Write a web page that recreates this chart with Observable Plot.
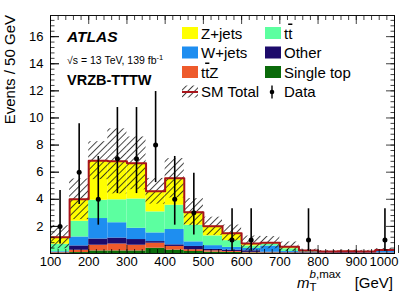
<!DOCTYPE html>
<html><head><meta charset="utf-8">
<script src="https://cdn.jsdelivr.net/npm/d3@7"></script>
<script src="https://cdn.jsdelivr.net/npm/@observablehq/plot@0.6"></script>
<style>html,body{margin:0;padding:0;background:#fff}</style>
</head><body><div id="chart"></div>
<script>
const FONT = "'Liberation Sans', Arial, Helvetica, sans-serif";

// ---- data ----
const binEdges = [100,150,200,250,300,350,400,450,500,550,600,650,700,750,800,850,900,950,1000];
const processNames  = ["Single top", "tt\u0304Z", "Other", "W+jets", "tt\u0304", "Z+jets"];
const processColors = ["#0a6b0a", "#ee5a2b", "#1d0b6b", "#1e8ef0", "#5cffa0", "#ffff00"];
const singleTop = [0.02,0.07,0.19,0.19,0.19,0.39,0.25,0.15,0.10,0.08,0.04,0.03,0.02,0.02,0.01,0.01,0.01,0.01];
const ttZ       = [0.04,0.17,0.42,0.51,0.42,0.37,0.27,0.13,0.10,0.07,0.04,0.03,0.03,0.02,0.02,0.02,0.02,0.02];
const other     = [0.02,0.32,0.46,0.44,0.42,0.12,0.12,0.24,0.10,0.10,0.12,0.04,0.03,0.03,0.03,0.05,0.02,0.02];
const wJets     = [0.05,0.66,1.51,1.13,0.83,0.64,1.13,0.34,0.28,0.20,0.17,0.45,0.07,0.03,0.02,0.02,0.03,0.12];
const ttbar     = [0.55,1.16,1.35,1.69,2.16,1.55,1.79,1.23,0.72,0.50,0.19,0.15,0.20,0.05,0.03,0.03,0.04,0.05];
const zJets     = [0.52,1.62,2.92,2.84,2.63,1.52,1.99,0.96,0.71,0.55,0.18,0.10,0.15,0.07,0.03,0.03,0.03,0.04];
const totalUnc  = [0.85,1.50,1.40,2.40,1.95,0.95,1.45,1.00,0.67,0.60,0.55,0.45,0.35,0.10,0.08,0.08,0.08,0.10];
const dataCounts  = [2,6,4,7,7,8,4,3,0,1,1,0,0,1,0,0,0,1];
const dataErrLow  = [0.71,3.62,2.09,4.42,4.42,5.23,2.09,1.37,null,0.17,0.17,null,null,0.17,null,null,null,0.17];
const dataErrHigh = [4.64,9.58,7.16,10.77,10.77,11.95,7.16,5.92,null,3.30,3.30,null,null,3.30,null,null,null,3.30];
const xTickLabels = [100,200,300,400,500,600,700,800,900];
const xLastTick = [1000];
const yTickLabels = [2,4,6,8,10,12,14,16];
const yMax = 17.56;

// ---- derived tables ----
const series = [singleTop, ttZ, other, wJets, ttbar, zJets];
const nBins = binEdges.length - 1;
const stackRows = [];
const totals = [];
for (let i = 0; i < nBins; i++) {
  let c = 0;
  series.forEach((s, k) => {
    stackRows.push({x1: binEdges[i], x2: binEdges[i+1], y1: c, y2: c + s[i], process: processNames[k]});
    c += s[i];
  });
  totals.push(c);
}
const bandRows = totals.map((t, i) => ({x1: binEdges[i], x2: binEdges[i+1], lo: Math.max(0, t - totalUnc[i]), hi: t + totalUnc[i]}));
const stepRows = binEdges.map((e, i) => ({x: e, y: totals[Math.min(i, nBins - 1)]}));
const dataRows = dataCounts.map((n, i) => ({x: (binEdges[i] + binEdges[i+1]) / 2, y: n, lo: dataErrLow[i], hi: dataErrHigh[i]})).filter(d => d.y > 0);

const xMinor = d3.range(100, 1001, 20);
const yMinor = d3.range(0, 44).map(k => +(k * 0.4).toFixed(2));
const yMajor = d3.range(0, 17, 2);
const blank = () => "";

const svg = Plot.plot({
  width: 415, height: 298,
  marginLeft: 50, marginRight: 21, marginTop: 15, marginBottom: 45,
  style: {fontFamily: FONT, fontSize: "13px", background: "white", color: "black"},
  x: {domain: [100, 1000]},
  y: {domain: [0, yMax]},
  color: {domain: processNames, range: processColors},
  marks: [
    Plot.rect(stackRows, {x1: "x1", x2: "x2", y1: "y1", y2: "y2", fill: "process", clip: true}),
    Plot.rect(bandRows, {x1: "x1", x2: "x2", y1: "lo", y2: "hi", fill: "url(#hatch)", clip: true}),
    Plot.line(stepRows, {x: "x", y: "y", curve: "step-after", stroke: "#a8141b", strokeWidth: 2, clip: true}),
    Plot.ruleX(dataRows, {x: "x", y1: "lo", y2: "hi", stroke: "black", strokeWidth: 1.6}),
    Plot.dot(dataRows, {x: "x", y: "y", r: 2.5, fill: "black", stroke: "none"}),
    Plot.frame({stroke: "#111"}),
    // bottom axis
    Plot.axisX({anchor: "bottom", ticks: xTickLabels, tickSize: -8, tickPadding: 11, tickFormat: d => String(d), label: null, strokeOpacity: 0.75, fontSize: 13}),
    Plot.axisX({anchor: "bottom", ticks: xLastTick, tickSize: -8, tickPadding: 11, tickFormat: d => String(d), textAnchor: "end", dx: 4, label: null, strokeOpacity: 0.75, fontSize: 13}),
    Plot.axisX({anchor: "bottom", ticks: xMinor, tickSize: -4, tickFormat: blank, label: null, strokeOpacity: 0.75}),
    // top axis
    Plot.axisX({anchor: "top", ticks: xTickLabels.concat(xLastTick), tickSize: -8, tickFormat: blank, label: null, strokeOpacity: 0.75}),
    Plot.axisX({anchor: "top", ticks: xMinor, tickSize: -4, tickFormat: blank, label: null, strokeOpacity: 0.75}),
    // left axis
    Plot.axisY({anchor: "left", ticks: yTickLabels, tickSize: -9, tickPadding: 16, tickFormat: d => String(d), label: null, strokeOpacity: 0.75, fontSize: 13}),
    Plot.axisY({anchor: "left", ticks: yMajor, tickSize: -9, tickFormat: blank, label: null, strokeOpacity: 0.75}),
    Plot.axisY({anchor: "left", ticks: yMinor, tickSize: -4.5, tickFormat: blank, label: null, strokeOpacity: 0.75}),
    // right axis
    Plot.axisY({anchor: "right", ticks: yMajor, tickSize: -9, tickFormat: blank, label: null, strokeOpacity: 0.75}),
    Plot.axisY({anchor: "right", ticks: yMinor, tickSize: -4.5, tickFormat: blank, label: null, strokeOpacity: 0.75})
  ]
});

const S = d3.select(svg);
// hatch pattern
const defs = S.insert("defs", ":first-child");
const pat = defs.append("pattern").attr("id", "hatch").attr("patternUnits", "userSpaceOnUse")
  .attr("width", 4.8).attr("height", 4.8).attr("patternTransform", "rotate(45)");
pat.append("line").attr("x1", 0.5).attr("y1", 0).attr("x2", 0.5).attr("y2", 4.8).attr("stroke", "#1a1a1a").attr("stroke-width", 0.8);

const ann = S.append("g").attr("font-family", FONT).attr("fill", "black").attr("text-anchor", "start");

// rich text helper: char followed by U+0304 gets an overline
function richText(sel, str) {
  const chars = Array.from(str);
  for (let i = 0; i < chars.length; i++) {
    if (chars[i] === "\u0304") continue;
    const bar = chars[i + 1] === "\u0304";
    const t = sel.append("tspan").text(chars[i]);
    if (bar) t.style("text-decoration", "overline");
  }
}

// y title
ann.append("text").attr("transform", "translate(14.5,15) rotate(-90)").attr("text-anchor", "end")
  .attr("font-size", 15).text("Events / 50 GeV");

// x title
const xt = ann.append("text").attr("x", 297).attr("y", 288).attr("font-size", 15);
xt.append("tspan").attr("font-style", "italic").text("m");
xt.append("tspan").attr("font-size", 11.5).attr("dy", 3).text("T");
xt.append("tspan").attr("font-size", 11.5).attr("font-style", "italic").attr("dx", -7).attr("dy", -13.5).text("b");
xt.append("tspan").attr("font-size", 11.5).text(",max");
ann.append("text").attr("x", 393).attr("y", 288).attr("text-anchor", "end").attr("font-size", 15).text("[GeV]");

// ATLAS labels
ann.append("text").attr("x", 67).attr("y", 42).attr("font-size", 15.5).attr("font-weight", "bold").attr("font-style", "italic").text("ATLAS");
const rs = ann.append("text").attr("x", 67).attr("y", 63.5).attr("font-size", 10.5);
rs.append("tspan").text("\u221As = 13 TeV, 139 fb");
rs.append("tspan").attr("font-size", 7.5).attr("dy", -4).text("-1");
ann.append("text").attr("x", 67).attr("y", 85).attr("font-size", 14.5).attr("font-weight", "bold").text("VRZB-TTTW");

// legend
const colX = [182, 265];
const rowY = [33, 52.5, 72, 91.5];
const legendLayout = [
  {name: "Z+jets", col: 0, row: 0}, {name: "W+jets", col: 0, row: 1}, {name: "tt\u0304Z", col: 0, row: 2},
  {name: "SM Total", col: 0, row: 3, kind: "total"},
  {name: "tt\u0304", col: 1, row: 0}, {name: "Other", col: 1, row: 1}, {name: "Single top", col: 1, row: 2},
  {name: "Data", col: 1, row: 3, kind: "data"}
];
const lg = ann.append("g").attr("font-size", 15);
legendLayout.forEach(it => {
  const x = colX[it.col], y = rowY[it.row];
  if (it.kind === "total") {
    lg.append("rect").attr("x", x).attr("y", y - 6).attr("width", 16).attr("height", 12).attr("fill", "url(#hatch)");
    lg.append("line").attr("x1", x).attr("x2", x + 16).attr("y1", y + 0.5).attr("y2", y + 0.5).attr("stroke", "#a8141b").attr("stroke-width", 2);
  } else if (it.kind === "data") {
    lg.append("line").attr("x1", x + 7).attr("x2", x + 7).attr("y1", y - 6).attr("y2", y + 7).attr("stroke", "black").attr("stroke-width", 1.4);
    lg.append("circle").attr("cx", x + 7).attr("cy", y + 0.5).attr("r", 2.3).attr("fill", "black");
  } else {
    const c = processColors[processNames.indexOf(it.name)];
    lg.append("rect").attr("x", x).attr("y", y - 6).attr("width", 16).attr("height", 12).attr("fill", c);
  }
  const t = lg.append("text").attr("x", x + 19).attr("y", y + 5.5);
  richText(t, it.name);
});

document.getElementById("chart").appendChild(svg);
</script>
</body></html>
